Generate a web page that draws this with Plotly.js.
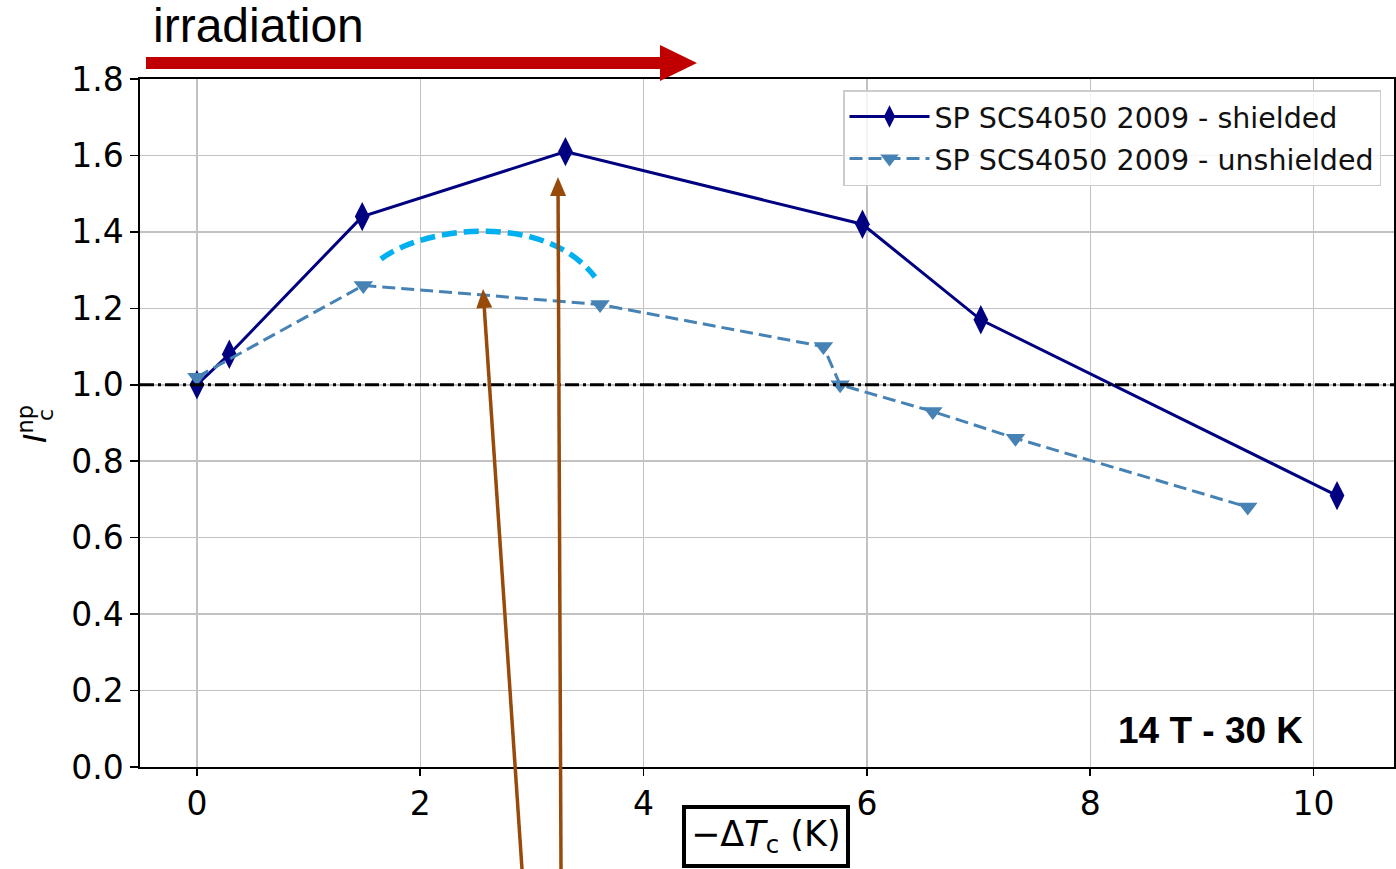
<!DOCTYPE html>
<html>
<head>
<meta charset="utf-8">
<script src="https://cdn.plot.ly/plotly-3.0.1.min.js"></script>
<style>html,body{margin:0;padding:0;background:#fff;}#chart{width:1396px;height:869px;}</style>
</head>
<body>
<div id="chart"></div>
<script>
// ---- data ----
const shieldedName = "SP SCS4050 2009 - shielded";
const shieldedX = [0, 0.29, 1.48, 3.30, 5.96, 7.02, 10.21];
const shieldedY = [1.00, 1.08, 1.44, 1.61, 1.42, 1.17, 0.71];

const unshieldedName = "SP SCS4050 2009 - unshielded";
const unshieldedX = [0, 1.49, 3.61, 5.61, 5.76, 6.59, 7.33, 9.41];
const unshieldedY = [1.02, 1.26, 1.21, 1.10, 1.00, 0.93, 0.86, 0.68];

const xTickVals = [0, 2, 4, 6, 8, 10];
const yTickVals = [0.0, 0.2, 0.4, 0.6, 0.8, 1.0, 1.2, 1.4, 1.6, 1.8];
const yTickText = yTickVals.map(v => v.toFixed(1));
const referenceLevel = 1.0;

// ---- layout geometry (pixels) ----
const W = 1396, H = 869;
const L = 140, R = 1394, T = 79, B = 767;
const px = x => (x - L) / (R - L);
const py = y => (B - y) / (B - T);
const pt = (x, y) => px(x).toFixed(5) + ',' + py(y).toFixed(5);

function arrowShapes(x0, y0, x1, y1, headLen, headW, lineW, color) {
  const dx = x1 - x0, dy = y1 - y0, len = Math.hypot(dx, dy);
  const ux = dx / len, uy = dy / len;
  const bx = x1 - headLen * ux, by = y1 - headLen * uy;
  const nx = -uy, ny = ux;
  return [
    {type: 'line', xref: 'paper', yref: 'paper', x0: px(x0), y0: py(y0), x1: px(bx + ux), y1: py(by + uy),
     line: {color: color, width: lineW}, layer: 'above'},
    {type: 'path', xref: 'paper', yref: 'paper', layer: 'above',
     path: 'M' + pt(x1, y1) + ' L' + pt(bx + nx * headW / 2, by + ny * headW / 2) +
           ' L' + pt(bx - nx * headW / 2, by - ny * headW / 2) + ' Z',
     fillcolor: color, line: {width: 0}}
  ];
}

const brown = '#974A0A';
const red = '#C00000';

const shapes = [
  {type: 'line', xref: 'paper', x0: 0, x1: 1, yref: 'y', y0: referenceLevel, y1: referenceLevel,
   line: {color: '#000000', width: 3, dash: '14px,4px,3px,4px'}, layer: 'above'},
  // red irradiation arrow
  {type: 'rect', xref: 'paper', yref: 'paper', x0: px(146), x1: px(662), y0: py(69), y1: py(57),
   fillcolor: red, line: {width: 0}, layer: 'above'},
  {type: 'path', xref: 'paper', yref: 'paper', layer: 'above',
   path: 'M' + pt(660, 45) + ' L' + pt(697, 63) + ' L' + pt(660, 81) + ' Z',
   fillcolor: red, line: {width: 0}},
  // cyan dashed arc
  {type: 'path', xref: 'paper', yref: 'paper', layer: 'above',
   path: 'M' + pt(381, 259) + ' C' + pt(425, 226) + ' ' + pt(545, 212) + ' ' + pt(595, 277),
   line: {color: '#00B0F0', width: 5.5, dash: '15px,7px'}}
].concat(arrowShapes(522, 869, 483, 289, 19, 16, 3.5, brown))
 .concat(arrowShapes(561, 869, 558, 177, 19, 16, 3.5, brown));

const traces = [
  {x: shieldedX, y: shieldedY, name: shieldedName, type: 'scatter', mode: 'lines+markers',
   legendgroup: 'a',
   line: {color: '#000080', width: 3},
   marker: {symbol: 'diamond-tall', size: 21, color: '#000080'}},
  {x: unshieldedX, y: unshieldedY, name: unshieldedName, type: 'scatter', mode: 'lines+markers',
   legendgroup: 'b',
   line: {color: '#4682B4', width: 3, dash: '13px,6px'},
   marker: {symbol: 'triangle-down', size: 17, color: '#4682B4'}}
];

const tickFont = {family: 'DejaVu Sans', size: 33, color: 'black'};

const layout = {
  width: W, height: H,
  margin: {l: L, r: W - R, t: T, b: H - B, pad: 0},
  paper_bgcolor: 'white', plot_bgcolor: 'white',
  showlegend: true,
  legend: {x: px(1381), y: py(90), xanchor: 'right', yanchor: 'top',
           traceorder: 'grouped', tracegroupgap: 2, itemwidth: 80,
           bgcolor: 'rgba(255,255,255,0.8)', bordercolor: '#cccccc', borderwidth: 1.5,
           font: {family: 'DejaVu Sans', size: 28.5, color: '#111'}},
  xaxis: {range: [-0.51, 10.72], tickvals: xTickVals, ticktext: xTickVals.map(String),
          showgrid: true, gridcolor: '#c2c2c2', gridwidth: 1.5, zeroline: false,
          showline: true, linecolor: 'black', linewidth: 1.6, mirror: true,
          ticks: 'outside', ticklen: 7, tickwidth: 1.6, tickcolor: 'black', tickfont: tickFont},
  yaxis: {range: [0, 1.8], tickvals: yTickVals, ticktext: yTickText,
          showgrid: true, gridcolor: '#c2c2c2', gridwidth: 1.5, zeroline: false,
          showline: true, linecolor: 'black', linewidth: 1.6, mirror: true,
          ticks: 'outside', ticklen: 8, tickwidth: 1.6, tickcolor: 'black', tickfont: tickFont},
  shapes: shapes,
  annotations: [
    {text: 'irradiation', xref: 'paper', yref: 'paper', x: px(151), y: py(26), xanchor: 'left', yanchor: 'middle',
     showarrow: false, font: {family: 'Liberation Sans', size: 48, color: 'black'}},
    {text: '<b>14 T - 30 K</b>', xref: 'paper', yref: 'paper', x: px(1210), y: py(730), xanchor: 'center', yanchor: 'middle',
     showarrow: false, font: {family: 'Liberation Sans', size: 37, color: 'black'}},
    {text: '\u2212\u0394<i>T</i><sub>c</sub> (K)', xref: 'paper', yref: 'paper', x: px(765.5), y: py(836.5),
     xanchor: 'center', yanchor: 'middle', showarrow: false,
     font: {family: 'DejaVu Sans', size: 35, color: 'black'},
     bordercolor: 'black', borderwidth: 4, borderpad: 5, bgcolor: 'white'},
    {text: '<i>I</i><sup>np</sup>', xref: 'paper', yref: 'paper', x: px(33), y: py(424), textangle: -90,
     xanchor: 'center', yanchor: 'middle', showarrow: false,
     font: {family: 'DejaVu Sans', size: 32, color: 'black'}},
    {text: 'c', xref: 'paper', yref: 'paper', x: px(45), y: py(415), textangle: -90,
     xanchor: 'center', yanchor: 'middle', showarrow: false,
     font: {family: 'DejaVu Sans', size: 22, color: 'black'}}
  ]
};

Plotly.newPlot('chart', traces, layout, {displayModeBar: false, staticPlot: true});
</script>
</body>
</html>
